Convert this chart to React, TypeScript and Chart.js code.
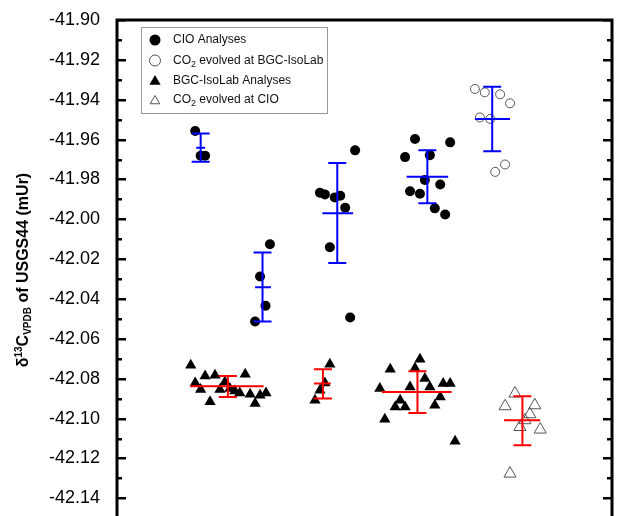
import React, { useEffect, useRef } from 'react';
import { Chart, registerables } from 'chart.js';

Chart.register(...registerables);

const FONT = "Arial, 'Liberation Sans', Helvetica, sans-serif";

// y axis
const yMin = -42.16;
const yMax = -41.9;
const yStep = 0.02;
const yMinorStep = 0.01;

// CIO Analyses (filled circles)
const cioX = [1.58, 1.69, 1.78, 3.09, 2.89, 3.0, 2.79, 4.81, 4.1, 4.2, 4.4, 4.51, 4.61, 4.3, 4.71, 6.02, 6.73, 5.82, 6.32, 6.22, 6.53, 5.92, 6.12, 6.42, 6.63];
const cioY = [-41.9557, -41.9681, -41.9681, -42.0125, -42.0287, -42.0434, -42.0513, -41.9654, -41.9867, -41.9875, -41.989, -41.9882, -41.9942, -42.014, -42.0493, -41.9597, -41.9614, -41.9688, -41.9678, -41.9803, -41.9825, -41.9859, -41.9872, -41.9945, -41.9976];

// CO2 evolved at BGC-IsoLab (open circles)
const bgcEvolvedX = [7.23, 7.43, 7.74, 7.94, 7.33, 7.54, 7.84, 7.64];
const bgcEvolvedY = [-41.9346, -41.9363, -41.9373, -41.9418, -41.9489, -41.9496, -41.9725, -41.9762];

// BGC-IsoLab Analyses (filled triangles)
const bgcX = [1.49, 1.78, 1.98, 2.59, 1.58, 2.18, 1.69, 2.08, 2.28, 2.38, 2.48, 2.69, 2.89, 3.01, 2.79, 1.88,
  4.3, 4.2, 4.1, 4.0,
  6.12, 5.52, 6.02, 6.22, 6.59, 6.73, 5.31, 5.92, 6.32, 6.53, 5.72, 5.62, 5.82, 6.42, 5.41, 6.83];
const bgcY = [-42.0732, -42.0786, -42.0782, -42.0777, -42.0821, -42.0816, -42.0854, -42.0854, -42.0849, -42.0861, -42.0871, -42.0878, -42.0883, -42.0871, -42.0924, -42.0916,
  -42.0727, -42.0821, -42.0858, -42.0908,
  -42.0702, -42.0752, -42.0747, -42.0799, -42.0824, -42.0824, -42.0849, -42.0841, -42.0841, -42.0891, -42.0908, -42.0942, -42.0942, -42.0933, -42.1003, -42.1114];

// CO2 evolved at CIO (open triangles)
const cioEvolvedX = [8.04, 7.84, 8.44, 8.34, 8.24, 8.14, 8.55, 7.94];
const cioEvolvedY = [-42.0874, -42.0938, -42.0933, -42.0978, -42.1008, -42.1042, -42.1055, -42.1276];

// Blue error bars (CIO groups)
const blueBarX = [1.69, 2.94, 4.45, 6.27, 7.58];
const blueBarMean = [-41.9641, -42.0341, -41.9969, -41.9787, -41.9497];
const blueBarLow = [-41.9711, -42.0513, -42.0219, -41.992, -41.9658];
const blueBarHigh = [-41.9569, -42.0166, -41.9718, -41.9653, -41.9335];
const blueBarXLow = [1.6, 2.79, 4.15, 5.85, 7.23];
const blueBarXHigh = [1.78, 3.11, 4.77, 6.69, 7.94];

// Red error bars (BGC-IsoLab groups)
const redBarX = [2.24, 4.16, 6.07, 8.19];
const redBarMean = [-42.0838, -42.0824, -42.0866, -42.1008];
const redBarLow = [-42.0891, -42.0899, -42.0972, -42.1134];
const redBarHigh = [-42.0786, -42.0752, -42.0762, -42.0888];
const redBarXLow = [1.48, 3.98, 5.35, 7.82];
const redBarXHigh = [2.96, 4.32, 6.76, 8.55];

const legendLabels = ['CIO Analyses', 'CO|2| evolved at BGC-IsoLab', 'BGC-IsoLab Analyses', 'CO|2| evolved at CIO'];

const toPts = (xs: number[], ys: number[]) => xs.map((x, i) => ({ x, y: ys[i] }));

function drawTriangle(ctx: CanvasRenderingContext2D, x: number, y: number, r: number, fill: boolean, color: string, lw: number) {
  const h = r * 1.5;
  const s = r * Math.sqrt(3);
  ctx.beginPath();
  ctx.moveTo(x, y - h * 2 / 3);
  ctx.lineTo(x + s / 2, y + h / 3);
  ctx.lineTo(x - s / 2, y + h / 3);
  ctx.closePath();
  if (fill) {
    ctx.fillStyle = color;
    ctx.fill();
  } else {
    ctx.strokeStyle = color;
    ctx.lineWidth = lw;
    ctx.stroke();
  }
}

const errorBarPlugin = {
  id: 'errorBars',
  afterDatasetsDraw(chart: any) {
    const { ctx, scales } = chart;
    const xs = scales.x;
    const ys = scales.y;
    const drawSet = (bx: number[], mean: number[], lo: number[], hi: number[], xlo: number[], xhi: number[], color: string) => {
      ctx.save();
      ctx.strokeStyle = color;
      ctx.lineWidth = 2;
      const cap = 9;
      bx.forEach((v, i) => {
        const px = xs.getPixelForValue(v);
        const pm = ys.getPixelForValue(mean[i]);
        const pl = ys.getPixelForValue(lo[i]);
        const ph = ys.getPixelForValue(hi[i]);
        ctx.beginPath();
        ctx.moveTo(px, pl);
        ctx.lineTo(px, ph);
        ctx.moveTo(px - cap, pl);
        ctx.lineTo(px + cap, pl);
        ctx.moveTo(px - cap, ph);
        ctx.lineTo(px + cap, ph);
        ctx.moveTo(xs.getPixelForValue(xlo[i]), pm);
        ctx.lineTo(xs.getPixelForValue(xhi[i]), pm);
        ctx.stroke();
      });
      ctx.restore();
    };
    drawSet(blueBarX, blueBarMean, blueBarLow, blueBarHigh, blueBarXLow, blueBarXHigh, '#0000ff');
    drawSet(redBarX, redBarMean, redBarLow, redBarHigh, redBarXLow, redBarXHigh, '#ff0000');
  },
};

const framePlugin = {
  id: 'frame',
  afterDraw(chart: any) {
    const { ctx, chartArea, scales } = chart;
    const ys = scales.y;
    const { left, right, top, bottom } = chartArea;
    ctx.save();
    ctx.strokeStyle = '#000';
    ctx.lineWidth = 3;
    ctx.beginPath();
    ctx.moveTo(left, bottom + 5);
    ctx.lineTo(left, top);
    ctx.lineTo(right, top);
    ctx.lineTo(right, bottom + 5);
    ctx.stroke();
    ctx.lineWidth = 2.5;
    const n = Math.round((yMax - yMin) / yMinorStep);
    for (let i = 0; i <= n; i++) {
      const v = yMin + i * yMinorStep;
      const py = Math.round(ys.getPixelForValue(v)) + 0.25;
      const major = i % Math.round(yStep / yMinorStep) === 0;
      const len = major ? 9 : 5;
      ctx.beginPath();
      ctx.moveTo(left, py);
      ctx.lineTo(left + len, py);
      ctx.moveTo(right, py);
      ctx.lineTo(right - len, py);
      ctx.stroke();
    }
    ctx.restore();
  },
};

const titlePlugin = {
  id: 'yTitle',
  afterDraw(chart: any) {
    const { ctx } = chart;
    const parts = [
      { t: 'δ', s: 16, dy: 0 },
      { t: '13', s: 10, dy: -6 },
      { t: 'C', s: 16, dy: 0 },
      { t: 'VPDB', s: 10, dy: 3 },
      { t: ' of USGS44 (mUr)', s: 16, dy: 0 },
    ];
    ctx.save();
    let total = 0;
    parts.forEach((p) => {
      ctx.font = `bold ${p.s}px ${FONT}`;
      total += ctx.measureText(p.t).width;
    });
    const cx = 28;
    const cy = 270;
    ctx.translate(cx, cy);
    ctx.rotate(-Math.PI / 2);
    ctx.fillStyle = '#000';
    ctx.textBaseline = 'alphabetic';
    ctx.textAlign = 'left';
    let x = -total / 2;
    parts.forEach((p) => {
      ctx.font = `bold ${p.s}px ${FONT}`;
      ctx.fillText(p.t, x, p.dy);
      x += ctx.measureText(p.t).width;
    });
    ctx.restore();
  },
};

const legendPlugin = {
  id: 'customLegend',
  afterDraw(chart: any) {
    const { ctx } = chart;
    const bx = 141.5, by = 27.5, bw = 186, bh = 86;
    ctx.save();
    ctx.fillStyle = '#fff';
    ctx.fillRect(bx, by, bw, bh);
    ctx.strokeStyle = '#999';
    ctx.lineWidth = 1;
    ctx.strokeRect(bx, by, bw, bh);
    const mx = 155;
    const rows = [40, 60.5, 80.5, 100];
    ctx.fillStyle = '#000';
    ctx.beginPath();
    ctx.arc(mx, rows[0], 5.5, 0, Math.PI * 2);
    ctx.fill();
    ctx.strokeStyle = '#555';
    ctx.lineWidth = 1;
    ctx.beginPath();
    ctx.arc(mx, rows[1], 5.5, 0, Math.PI * 2);
    ctx.stroke();
    drawTriangle(ctx, mx, rows[2] + 1, 6.5, true, '#000', 1);
    drawTriangle(ctx, mx, rows[3] + 1, 5.5, false, '#555', 1);
    ctx.fillStyle = '#111';
    ctx.textBaseline = 'middle';
    ctx.textAlign = 'left';
    legendLabels.forEach((lab, i) => {
      const segs = lab.split('|');
      let x = 173;
      segs.forEach((s, j) => {
        const sub = j % 2 === 1;
        ctx.font = `${sub ? 9 : 12}px ${FONT}`;
        ctx.fillText(s, x, rows[i] + (sub ? 4 : 0));
        x += ctx.measureText(s).width;
      });
    });
    ctx.restore();
  },
};

export default function App() {
  const ref = useRef<HTMLCanvasElement | null>(null);
  useEffect(() => {
    if (!ref.current) return;
    const chart = new Chart(ref.current, {
      type: 'scatter',
      data: {
        datasets: [
          {
            label: 'CIO Analyses',
            data: toPts(cioX, cioY),
            pointStyle: 'circle',
            pointRadius: 5,
            backgroundColor: '#000',
            borderColor: '#000',
            borderWidth: 0,
          },
          {
            label: 'CO2 evolved at BGC-IsoLab',
            data: toPts(bgcEvolvedX, bgcEvolvedY),
            pointStyle: 'circle',
            pointRadius: 4.5,
            backgroundColor: 'rgba(0,0,0,0)',
            borderColor: '#555',
            borderWidth: 1,
          },
          {
            label: 'BGC-IsoLab Analyses',
            data: toPts(bgcX, bgcY),
            pointStyle: 'triangle',
            pointRadius: 6.5,
            backgroundColor: '#000',
            borderColor: '#000',
            borderWidth: 0,
          },
          {
            label: 'CO2 evolved at CIO',
            data: toPts(cioEvolvedX, cioEvolvedY),
            pointStyle: 'triangle',
            pointRadius: 7,
            backgroundColor: 'rgba(0,0,0,0)',
            borderColor: '#555',
            borderWidth: 1,
          },
        ],
      },
      options: {
        animation: false,
        responsive: true,
        maintainAspectRatio: false,
        devicePixelRatio: 1,
        layout: { autoPadding: false, padding: { left: 0, top: 20, right: 5, bottom: 0 } },
        plugins: { legend: { display: false }, tooltip: { enabled: false } },
        scales: {
          x: { type: 'linear', min: 0, max: 10, display: false },
          y: {
            type: 'linear',
            min: yMin,
            max: yMax,
            grid: { display: true, drawOnChartArea: false, drawTicks: true, tickLength: 17, color: 'rgba(0,0,0,0)' },
            border: { display: false },
            ticks: {
              stepSize: yStep,
              padding: 0,
              color: '#000',
              font: { size: 18, family: FONT },
              callback: (v: any) => Number(v).toFixed(2),
            },
            afterFit: (s: any) => {
              s.width = 117;
            },
          },
        },
      },
      plugins: [errorBarPlugin, framePlugin, titlePlugin, legendPlugin],
    } as any);
    return () => chart.destroy();
  }, []);
  return (
    <div style={{ position: 'fixed', left: 0, top: 0, width: 617, height: 516, overflow: 'hidden', background: '#fff' }}>
      <div style={{ position: 'relative', width: 617, height: 549 }}>
        <canvas ref={ref} style={{ display: 'block' }} />
      </div>
    </div>
  );
}
